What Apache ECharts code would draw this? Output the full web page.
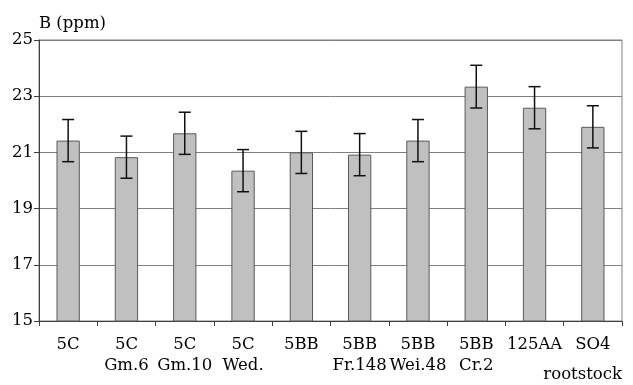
<!DOCTYPE html>
<html><head><meta charset="utf-8">
<script src="https://cdn.jsdelivr.net/npm/echarts@6/dist/echarts.min.js"></script>
<style>html,body{margin:0;padding:0;background:#fff}#c{width:633px;height:385px}</style>
</head><body><div id="c"></div>
<script>
const categories = ['5C','5C\nGm.6','5C\nGm.10','5C\nWed.','5BB','5BB\nFr.148','5BB\nWei.48','5BB\nCr.2','125AA','SO4'];
const values = [21.42, 20.83, 21.68, 20.35, 21.0, 20.92, 21.42, 23.34, 22.59, 21.91];
const errors = [0.75, 0.75, 0.75, 0.75, 0.75, 0.75, 0.75, 0.76, 0.75, 0.75];
const yTicks = [15, 17, 19, 21, 23, 25];

const font = 'DejaVu Serif';
const chart = echarts.init(document.getElementById('c'), null, {renderer: 'canvas'});
chart.setOption({
  animation: false,
  backgroundColor: '#fff',
  grid: {left: 39, right: 11, top: 40, bottom: 64, show: true, borderColor: '#808080', borderWidth: 1},
  xAxis: {
    type: 'category', data: categories,
    axisLine: {lineStyle: {color: '#404040', width: 1}},
    axisTick: {show: true, length: 5, inside: false, lineStyle: {color: '#404040'}},
    axisLabel: {fontFamily: font, fontSize: 16.5, color: '#000', margin: 13, lineHeight: 21, interval: 0}
  },
  yAxis: {
    type: 'value', min: yTicks[0], max: yTicks[yTicks.length - 1], interval: 2,
    axisLine: {show: true, lineStyle: {color: '#404040', width: 1}},
    axisTick: {show: true, length: 5, lineStyle: {color: '#404040'}},
    axisLabel: {fontFamily: font, fontSize: 16.5, color: '#000', margin: 6},
    splitLine: {lineStyle: {color: '#808080', width: 1}}
  },
  graphic: [
    {type: 'text', left: 39, top: 15, style: {text: 'B (ppm)', font: '16.5px "DejaVu Serif"', fill: '#000'}},
    {type: 'text', right: 11, top: 366, style: {text: 'rootstock', font: '16.5px "DejaVu Serif"', fill: '#000'}}
  ],
  series: [
    {
      type: 'bar', data: values, barWidth: '40%',
      itemStyle: {color: '#c0c0c0', borderColor: '#5a5a5a', borderWidth: 1},
      z: 2
    },
    {
      type: 'custom', z: 3,
      data: values.map((v, i) => [i, v - errors[i], v + errors[i]]),
      renderItem: function (params, api) {
        const lo = api.coord([api.value(0), api.value(1)]);
        const hi = api.coord([api.value(0), api.value(2)]);
        const hw = 6;
        const st = {stroke: '#111', lineWidth: 1.5};
        return {type: 'group', children: [
          {type: 'line', shape: {x1: lo[0], y1: lo[1], x2: hi[0], y2: hi[1]}, style: st},
          {type: 'line', shape: {x1: lo[0] - hw, y1: lo[1], x2: lo[0] + hw, y2: lo[1]}, style: st},
          {type: 'line', shape: {x1: hi[0] - hw, y1: hi[1], x2: hi[0] + hw, y2: hi[1]}, style: st}
        ]};
      }
    }
  ]
});
</script></body></html>
